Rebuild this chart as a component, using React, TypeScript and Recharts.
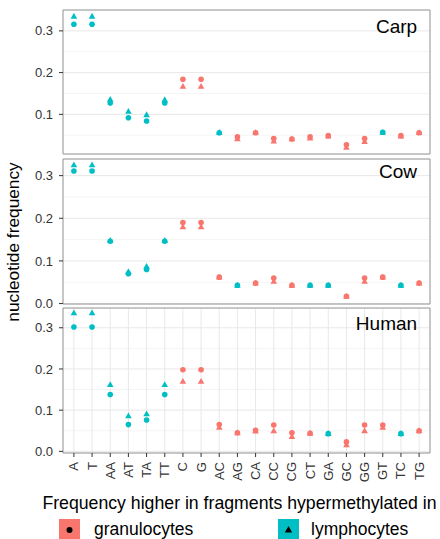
import { ScatterChart, Scatter, XAxis, YAxis, CartesianGrid, ReferenceArea, ReferenceDot } from "recharts";

const categories = ["A", "T", "AA", "AT", "TA", "TT", "C", "G", "AC", "AG", "CA", "CC", "CG", "CT", "GA", "GC", "GG", "GT", "TC", "TG"];

// G = higher in granulocytes, L = higher in lymphocytes
const carpGran = [0.316, 0.316, 0.127, 0.092, 0.084, 0.127, 0.184, 0.184, 0.056, 0.046, 0.056, 0.042, 0.041, 0.046, 0.049, 0.027, 0.042, 0.057, 0.049, 0.056];
const carpLymph = [0.335, 0.335, 0.136, 0.107, 0.099, 0.135, 0.167, 0.167, 0.057, 0.041, 0.056, 0.036, 0.041, 0.043, 0.048, 0.021, 0.035, 0.057, 0.048, 0.056];
const carpHigher = ["L", "L", "L", "L", "L", "L", "G", "G", "L", "G", "G", "G", "G", "G", "G", "G", "G", "L", "G", "G"];

const cowGran = [0.311, 0.311, 0.146, 0.070, 0.080, 0.146, 0.190, 0.190, 0.062, 0.043, 0.048, 0.060, 0.043, 0.043, 0.043, 0.017, 0.060, 0.062, 0.043, 0.048];
const cowLymph = [0.325, 0.325, 0.148, 0.075, 0.087, 0.148, 0.180, 0.180, 0.062, 0.043, 0.048, 0.052, 0.043, 0.043, 0.043, 0.017, 0.052, 0.062, 0.043, 0.048];
const cowHigher = ["L", "L", "L", "L", "L", "L", "G", "G", "G", "L", "G", "G", "G", "L", "L", "G", "G", "G", "L", "G"];

const humanGran = [0.302, 0.302, 0.138, 0.065, 0.076, 0.138, 0.198, 0.198, 0.065, 0.045, 0.051, 0.064, 0.045, 0.044, 0.043, 0.023, 0.064, 0.064, 0.043, 0.050];
const humanLymph = [0.336, 0.336, 0.162, 0.086, 0.091, 0.162, 0.170, 0.170, 0.058, 0.045, 0.049, 0.050, 0.036, 0.044, 0.043, 0.016, 0.050, 0.058, 0.043, 0.050];
const humanHigher = ["L", "L", "L", "L", "L", "L", "G", "G", "G", "G", "G", "G", "G", "G", "L", "G", "G", "G", "L", "G"];

const yTicks = [0, 0.1, 0.2, 0.3];
const minorTicks = [0.05, 0.15, 0.25];

const RED = "#F8766D";
const TEAL = "#00BFC4";
const FONT = "'Liberation Sans', Arial, sans-serif";

function Circle(props: any) {
  const color = props.payload.h === "G" ? RED : TEAL;
  return <circle cx={props.cx} cy={props.cy} r={2.8} fill={color} />;
}

function Triangle(props: any) {
  const { cx, cy } = props;
  const color = props.payload.h === "G" ? RED : TEAL;
  return <path d={`M${cx},${cy - 3.4} L${cx - 3.3},${cy + 2.4} L${cx + 3.3},${cy + 2.4} Z`} fill={color} />;
}

function XTick(props: any) {
  const { x, y, payload } = props;
  return (
    <g transform={`translate(${x},${y + 3})`}>
      <text x={0} y={0} dy={4.5} textAnchor="end" transform="rotate(-90)" fontSize={13} fill="#333" fontFamily={FONT}>
        {categories[payload.value]}
      </text>
    </g>
  );
}

function Panel({ name, gran, lymph, higher, domain, top, marginTop, plotHeight, showX }: any) {
  const xHeight = showX ? 32 : 0;
  // extra room under the plot so the lowest tick label is not clipped
  const bottomPad = showX ? 0 : 8;
  const granData = categories.map((c, i) => ({ x: i, y: gran[i], h: higher[i] }));
  const lymphData = categories.map((c, i) => ({ x: i, y: lymph[i], h: higher[i] }));
  const ticks = yTicks.filter((t) => t >= domain[0] && t <= domain[1]);
  return (
    <div style={{ position: "absolute", left: 0, top }}>
      <ScatterChart
        width={440}
        height={marginTop + plotHeight + xHeight + bottomPad}
        margin={{ top: marginTop, right: 10, bottom: bottomPad, left: 23 }}
      >
        <CartesianGrid horizontalValues={minorTicks} vertical={false} stroke="#f4f4f4" />
        <CartesianGrid stroke="#e8e8e8" />
        <XAxis
          type="number"
          dataKey="x"
          domain={[-0.6, 19.6]}
          ticks={categories.map((c, i) => i)}
          allowDataOverflow
          height={xHeight}
          axisLine={false}
          tickLine={showX ? { stroke: "#333" } : false}
          tickSize={4}
          tick={showX ? <XTick /> : false}
          interval={0}
        />
        <YAxis
          type="number"
          dataKey="y"
          domain={domain}
          ticks={ticks}
          interval={0}
          allowDataOverflow
          width={40}
          axisLine={false}
          tickLine={{ stroke: "#333" }}
          tickSize={4}
          tickMargin={6}
          tickFormatter={(v: number) => v.toFixed(1)}
          tick={{ fontSize: 13, fill: "#333", fontFamily: FONT }}
        />
        <Scatter data={granData} shape={<Circle />} isAnimationActive={false} />
        <Scatter data={lymphData} shape={<Triangle />} isAnimationActive={false} />
        <ReferenceArea x1={-0.6} x2={19.6} y1={domain[0]} y2={domain[1]} fill="none" stroke="#9a9a9a" strokeWidth={1} />
        <ReferenceDot
          x={19}
          y={0.31}
          r={0}
          shape={(p: any) => (
            <text x={p.cx - 2} y={p.cy} dy={6.5} textAnchor="end" fontSize={19} fill="#000" fontFamily={FONT}>
              {name}
            </text>
          )}
        />
      </ScatterChart>
    </div>
  );
}

export default function App() {
  return (
    <div style={{ position: "absolute", left: 0, top: 0, width: 440, height: 539, background: "#fff", overflow: "hidden", fontFamily: FONT }}>
      <Panel name="Carp" gran={carpGran} lymph={carpLymph} higher={carpHigher} domain={[0.005, 0.35]} top={0} marginTop={10} plotHeight={144} showX={false} />
      <Panel name="Cow" gran={cowGran} lymph={cowLymph} higher={cowHigher} domain={[-0.001, 0.339]} top={154} marginTop={5} plotHeight={145} showX={false} />
      <Panel name="Human" gran={humanGran} lymph={humanLymph} higher={humanHigher} domain={[-0.004, 0.348]} top={304} marginTop={4} plotHeight={145} showX={true} />
      <svg width={440} height={539} style={{ position: "absolute", left: 0, top: 0, pointerEvents: "none" }}>
        <text x={0} y={0} transform="translate(19,242) rotate(-90)" textAnchor="middle" fontSize={17.3} fill="#000" fontFamily={FONT}>
          nucleotide frequency
        </text>
        <text x={239.5} y={509} textAnchor="middle" fontSize={17.7} fill="#000" fontFamily={FONT}>
          Frequency higher in fragments hypermethylated in
        </text>
        <rect x={59} y={519} width={21} height={22} fill={RED} />
        <circle cx={69.5} cy={530} r={3} fill="#000" />
        <text x={94} y={535} fontSize={17.5} fill="#000" fontFamily={FONT}>granulocytes</text>
        <rect x={278} y={519} width={21} height={22} fill={TEAL} />
        <path d="M288.5,526 L284.8,532.5 L292.2,532.5 Z" fill="#000" />
        <text x={311} y={535} fontSize={17.5} fill="#000" fontFamily={FONT}>lymphocytes</text>
      </svg>
    </div>
  );
}
